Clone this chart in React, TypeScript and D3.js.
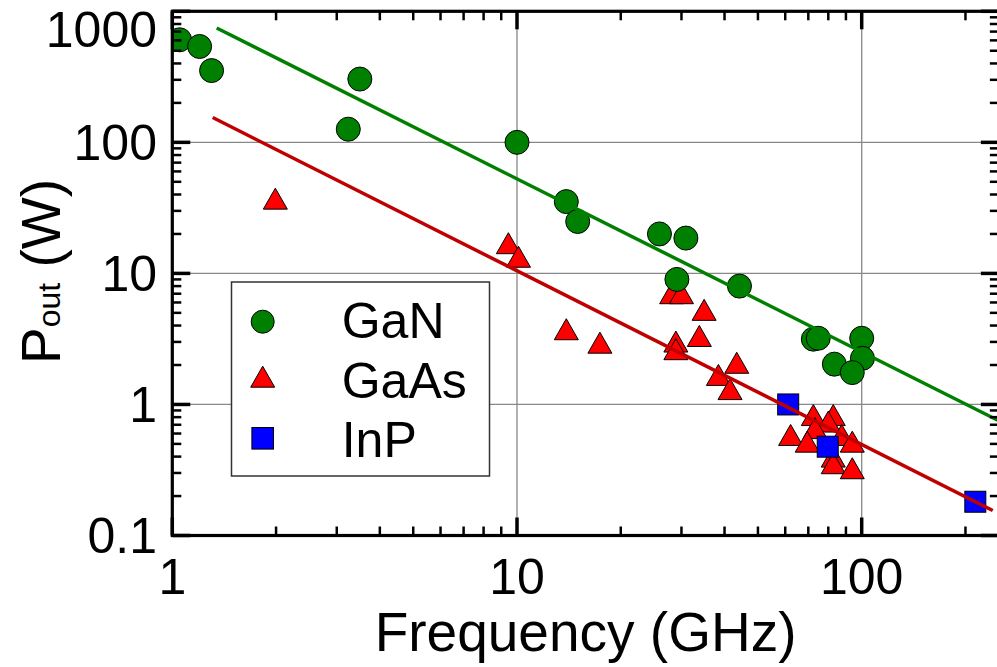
import React from 'react';
import * as d3 from 'd3';

// ---- data ----
const ganFreq = [1.05, 1.2, 1.3, 3.5, 3.24, 10, 13.9, 15, 25.9, 30.9, 29.1, 44.2, 72.4, 74.8, 100, 100.5, 83.3, 93.9];
const ganPower = [606, 539, 353, 304, 126, 100, 35.3, 24.9, 20, 18.6, 9.0, 8.0, 3.15, 3.2, 3.2, 2.25, 2.03, 1.75];

const gaasFreq = [1.99, 9.44, 10.1, 13.9, 17.4, 28.1, 30.0, 34.9, 33.8, 28.9, 28.9, 43.4, 38.4, 41.5, 72.4, 82.7, 80.0, 73.2, 62.2, 69.5, 87.5, 93.9, 82.7, 82.7, 93.9];
const gaasPower = [37.2, 17.0, 13.4, 3.75, 2.96, 7.06, 7.06, 5.27, 3.33, 3.02, 2.64, 2.08, 1.68, 1.31, 0.83, 0.83, 0.74, 0.66, 0.585, 0.52, 0.585, 0.52, 0.40, 0.356, 0.326];

const inpFreq = [61.2, 79.7, 213.6];
const inpPower = [1.0, 0.476, 0.181];

const ganFitFreq = [1.345, 250];
const ganFitPower = [745, 0.75];
const gaasFitFreq = [1.31, 240];
const gaasFitPower = [154.6, 0.155];

const xMajorTicks = [1, 10, 100];
const yMajorTicks = [0.1, 1, 10, 100, 1000];
const xTickLabels = ['1', '10', '100'];
const yTickLabels = ['0.1', '1', '10', '100', '1000'];

const legendLabels = ['GaN', 'GaAs', 'InP'];

// ---- layout ----
const W = 997;
const H = 667;
const left = 172.3;
const right = 172.3 + 344.7 * Math.log10(250);
const top = 11.3;
const bottom = 535.5;

const GREEN = '#008000';
const RED = '#ff0000';
const BLUE = '#0000ff';
const FONT = "'Liberation Sans', Arial, sans-serif";

function minorTicks(lo: number, hi: number): number[] {
  const out: number[] = [];
  for (let e = Math.floor(Math.log10(lo)); e <= Math.ceil(Math.log10(hi)); e++) {
    for (let m = 2; m <= 9; m++) {
      const v = m * Math.pow(10, e);
      if (v > lo && v < hi) out.push(v);
    }
  }
  return out;
}

const Triangle = ({ x, y, w = 24, h = 21 }: { x: number; y: number; w?: number; h?: number }) => (
  <path
    d={`M${x},${y - h / 2}L${x + w / 2},${y + h / 2}L${x - w / 2},${y + h / 2}Z`}
    fill={RED}
    stroke="#000"
    strokeWidth={1}
  />
);

export default function App() {
  const x = d3.scaleLog().domain([1, 250]).range([left, right]);
  const y = d3.scaleLog().domain([0.1, 1000]).range([bottom, top]);

  const line = d3
    .line<[number, number]>()
    .x((d) => x(d[0]))
    .y((d) => y(d[1]));

  const ganFit: [number, number][] = ganFitFreq.map((f, i) => [f, ganFitPower[i]]);
  const gaasFit: [number, number][] = gaasFitFreq.map((f, i) => [f, gaasFitPower[i]]);

  const xMinor = minorTicks(1, 250);
  const yMinor = minorTicks(0.1, 1000);

  const majLen = 18;
  const minLen = 9;
  const majW = 3.5;
  const minW = 2.5;

  const legX = 231.5;
  const legY = 282;
  const legW = 258;
  const legH = 194;

  return (
    <svg
      width={W}
      height={H}
      style={{ position: 'fixed', left: 0, top: 0, background: '#fff' }}
      fontFamily={FONT}
    >
      <defs>
        <clipPath id="plot">
          <rect x={left} y={top} width={right - left} height={bottom - top} />
        </clipPath>
      </defs>
      <rect x={0} y={0} width={W} height={H} fill="#fff" />

      {/* grid */}
      <g stroke="#888" strokeWidth={1.3}>
        {xMajorTicks
          .filter((v) => v > 1)
          .map((v) => (
            <line key={'gx' + v} x1={x(v)} x2={x(v)} y1={top} y2={bottom} />
          ))}
        {yMajorTicks
          .filter((v) => v > 0.1 && v < 1000)
          .map((v) => (
            <line key={'gy' + v} x1={left} x2={right} y1={y(v)} y2={y(v)} />
          ))}
      </g>

      {/* markers */}
      <g clipPath="url(#plot)">
        {gaasFreq.map((f, i) => (
          <Triangle key={'ga' + i} x={x(f)} y={y(gaasPower[i])} />
        ))}
        {ganFreq.map((f, i) => (
          <circle key={'gn' + i} cx={x(f)} cy={y(ganPower[i])} r={12} fill={GREEN} stroke="#000" strokeWidth={1} />
        ))}
        {inpFreq.map((f, i) => (
          <rect
            key={'ip' + i}
            x={x(f) - 10.5}
            y={y(inpPower[i]) - 10.5}
            width={21}
            height={21}
            fill={BLUE}
            stroke="#000"
            strokeWidth={1}
          />
        ))}
        <path d={line(ganFit) || ''} fill="none" stroke={GREEN} strokeWidth={3.5} />
        <path d={line(gaasFit) || ''} fill="none" stroke="#c00000" strokeWidth={3.5} />
      </g>

      {/* legend */}
      <rect x={legX} y={legY} width={legW} height={legH} fill="#fff" stroke="#333" strokeWidth={1.5} />
      <circle cx={262.7} cy={321.7} r={11.5} fill={GREEN} stroke="#000" strokeWidth={1} />
      <Triangle x={262.7} y={376.7} />
      <rect x={262.7 - 10.8} y={438.3 - 10.8} width={21.6} height={21.6} fill={BLUE} stroke="#000" strokeWidth={1} />
      {legendLabels.map((t, i) => (
        <text key={t} x={341.7} y={338.3 + i * 59.2} fontSize={50} fill="#000">
          {t}
        </text>
      ))}

      {/* ticks */}
      <g stroke="#000">
        {xMajorTicks.map((v) => (
          <g key={'xt' + v} strokeWidth={majW}>
            <line x1={x(v)} x2={x(v)} y1={bottom} y2={bottom - majLen} />
            <line x1={x(v)} x2={x(v)} y1={top} y2={top + majLen} />
          </g>
        ))}
        {xMinor.map((v) => (
          <g key={'xm' + v} strokeWidth={minW}>
            <line x1={x(v)} x2={x(v)} y1={bottom} y2={bottom - minLen} />
            <line x1={x(v)} x2={x(v)} y1={top} y2={top + minLen} />
          </g>
        ))}
        {yMajorTicks.map((v) => (
          <g key={'yt' + v} strokeWidth={majW}>
            <line x1={left} x2={left + majLen} y1={y(v)} y2={y(v)} />
            <line x1={right} x2={right - majLen} y1={y(v)} y2={y(v)} />
          </g>
        ))}
        {yMinor.map((v) => (
          <g key={'ym' + v} strokeWidth={minW}>
            <line x1={left} x2={left + minLen} y1={y(v)} y2={y(v)} />
            <line x1={right} x2={right - minLen} y1={y(v)} y2={y(v)} />
          </g>
        ))}
      </g>

      {/* frame */}
      <rect x={left} y={top} width={right - left} height={bottom - top} fill="none" stroke="#000" strokeWidth={3.2} />

      {/* tick labels */}
      {xMajorTicks.map((v, i) => (
        <text key={'xl' + v} x={x(v)} y={594} fontSize={50} textAnchor="middle" fill="#000">
          {xTickLabels[i]}
        </text>
      ))}
      {yMajorTicks.map((v, i) => (
        <text
          key={'yl' + v}
          x={157}
          y={Math.max(y(v), top + 18.5) + 17.5}
          fontSize={50}
          textAnchor="end"
          fill="#000"
        >
          {yTickLabels[i]}
        </text>
      ))}

      {/* axis titles */}
      <text x={(left + right) / 2} y={651} fontSize={55} textAnchor="middle" fill="#000">
        Frequency (GHz)
      </text>
      <text transform="translate(60,271.5) rotate(-90)" fontSize={55} textAnchor="middle" fill="#000">
        P<tspan fontSize={32}>out</tspan>
        <tspan> (W)</tspan>
      </text>
    </svg>
  );
}
